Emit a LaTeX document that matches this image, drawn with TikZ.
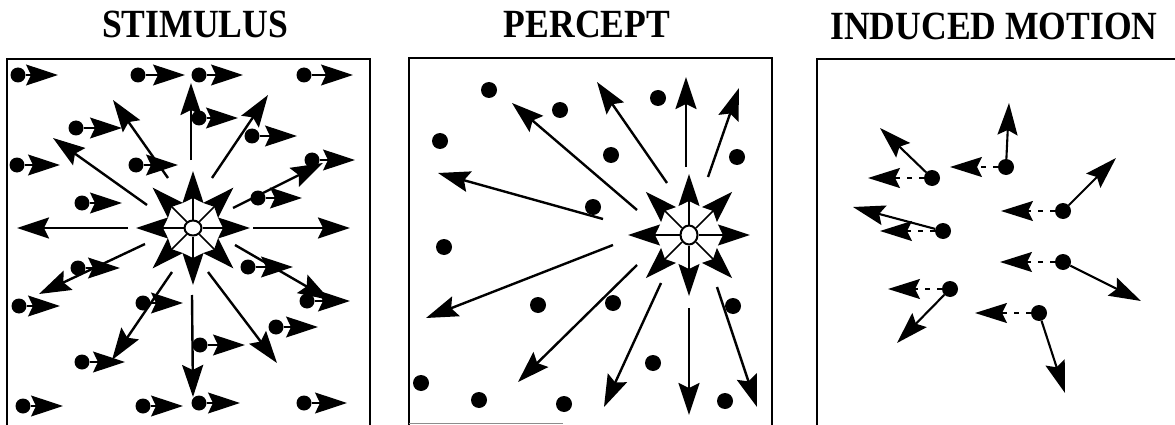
\documentclass[tikz,border=0pt]{standalone}
\usepackage{fontspec}
\setmainfont{Liberation Serif}
\usetikzlibrary{arrows.meta,shapes.geometric,calc}
\begin{document}
\begin{tikzpicture}[x=1pt,y=-1pt,
  head/.style={-{Stealth[length=32pt,width=21pt,inset=5pt]}},
  dotarrow/.style={head, line width=1.2pt},
  longarrow/.style={head, line width=2.4pt},
  radarrow/.style={head, line width=1.5pt},
  induced/.style={-{Stealth[length=32pt,width=20pt,inset=5pt]}, line width=2.1pt},
  retinal/.style={-{Stealth[length=32pt,width=20pt,inset=5pt]}, line width=1.8pt, dash pattern=on 5pt off 7pt},
  dot/.style={circle, fill=black, inner sep=0pt, minimum size=15pt},
  focus/.style={ellipse, draw, line width=2pt, fill=white, inner sep=0pt},
  panel/.style={line width=1.6pt},
  title/.style={font=\bfseries\fontsize{40}{40}\selectfont, anchor=base, inner sep=0pt}]
\useasboundingbox (0,0) rectangle (1175,425);
% titles
\node[title] (t1) at (195,38) {\scalebox{0.89}[1]{STIMULUS}};
\node[title] (t2) at (587,38) {\scalebox{0.89}[1]{PERCEPT}};
\node[title] (t3) at (994,40) {\scalebox{0.89}[1]{INDUCED MOTION}};
% panels
\draw[panel] (7,425) -- (7,59) -- (370,59) -- (370,425);
\draw[panel] (409,425) -- (409,58) -- (772,58) -- (772,425);
\draw[line width=1pt, black!45] (409,423) -- (563,423);
\draw[panel] (817,425) -- (817,59) -- (1175,59);

% ---------- STIMULUS ----------
\foreach \sx/\sy/\tx/\ty [count=\i] in {191/160/191/83, 168/178/113/100, 147/205/53/138,
   212/178/268/95, 233/208/323/163, 128/228/17/228, 253/228/350/228, 145/244/39/294,
   172/272/112/360, 192/295/193/397, 208/272/277/363, 235/245/330/300}{
  \coordinate (as\i) at (\sx,\sy);
  \coordinate (ae\i) at (\tx,\ty);
  \draw[longarrow] (as\i) -- (ae\i);
}
\node[focus, minimum width=17pt, minimum height=15pt] (C1) at (193,228) {};
\foreach \a in {0,45,...,315}{
  \coordinate (r1\a) at ($(C1.center)+(\a:57)$);
  \draw[radarrow] (C1) -- (r1\a);
}
\foreach \x/\y/\t [count=\i] in {18/75/58, 138/75/185, 199/75/243, 304/75/353,
   76/128/122, 199/118/238, 252/136/297, 17/165/60, 136/165/178, 312/160/355,
   82/203/122, 258/198/302, 78/268/120, 248/267/293, 19/306/60, 143/303/183,
   307/301/350, 276/327/318, 200/345/245, 82/362/125, 23/406/63, 143/406/183,
   199/403/240, 304/403/347}{
  \node[dot] (s\i) at (\x,\y) {};
  \coordinate (st\i) at (\t,\y);
  \draw[dotarrow] (s\i) -- (st\i);
}

% ---------- PERCEPT ----------
\foreach \sx/\sy/\tx/\ty [count=\i] in {603/219/438/173, 637/210/512/103, 667/183/597/82,
   686/167/686/77, 708/177/739/88, 613/245/426/318, 637/265/518/382, 661/283/604/407,
   689/308/689/415, 717/287/757/407}{
  \coordinate (bs\i) at (\sx,\sy);
  \coordinate (be\i) at (\tx,\ty);
  \draw[longarrow] (bs\i) -- (be\i);
}
\node[focus, minimum width=17pt, minimum height=19pt] (C2) at (689,235) {};
\foreach \a in {0,45,...,315}{
  \coordinate (r2\a) at ($(C2.center)+(\a:61)$);
  \draw[radarrow] (C2) -- (r2\a);
}
\foreach \x/\y [count=\i] in {489/90, 560/110, 440/141, 611/155, 658/98, 737/157, 593/207,
   444/247, 538/305, 613/303, 733/306, 653/363, 421/383, 479/400, 564/404, 725/401}{
  \node[dot, minimum size=16pt] (p\i) at (\x,\y) {};
}

% ---------- INDUCED MOTION ----------
\foreach \x/\y/\ax/\ay/\bx [count=\i] in {932/178/880/128/868, 1006/167/1009/103/950,
   1063/211/1116/158/1001, 943/231/853/207/880, 1063/262/1141/301/1000,
   950/289/897/343/888, 1039/313/1065/393/975}{
  \node[dot, minimum size=16pt] (m\i) at (\x,\y) {};
  \coordinate (ma\i) at (\ax,\ay);
  \coordinate (mb\i) at (\bx,\y);
  \draw[induced] (m\i) -- (ma\i);
  \draw[retinal] (m\i) -- (mb\i);
}
\end{tikzpicture}
\end{document}
